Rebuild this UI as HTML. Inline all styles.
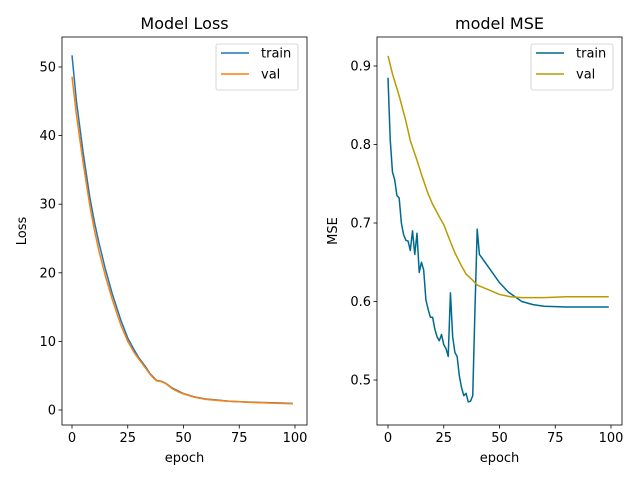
<!DOCTYPE html>
<html><head><meta charset="utf-8"><style>
body{margin:0;background:#fff}
svg{display:block;font-family:"DejaVu Sans","Liberation Sans",sans-serif}
</style></head><body>
<svg id="c" width="640" height="480" viewBox="0 0 640 480"></svg>
<script>
const lossEpochs=[0,2,5,8,10,12,15,18,20,22,25,28,30,33,35,37,38,40,42,45,48,50,55,60,65,70,75,80,85,90,95,99];
const lossTrain=[51.7,45,37.5,31,27.5,24.5,20.5,17,15,13,10.5,8.7,7.6,6.3,5.3,4.6,4.3,4.2,3.9,3.2,2.7,2.4,1.9,1.6,1.45,1.3,1.2,1.15,1.1,1.05,1.0,0.95];
const lossVal=[48.6,43,36,29.8,26.3,23.3,19.5,16.2,14.2,12.3,10,8.3,7.4,6.1,5.2,4.5,4.25,4.15,3.85,3.1,2.6,2.35,1.85,1.55,1.4,1.28,1.2,1.12,1.05,1.0,0.95,0.92];
const mseTrainEpochs=[0,1,2,3,4,5,6,7,8,9,10,11,12,13,14,15,16,17,18,19,20,21,22,23,24,25,26,27,28,29,30,31,32,33,34,35,36,37,38,39,40,41,43,46,50,54,57,60,65,70,80,90,99];
const mseTrain=[0.885,0.806,0.765,0.755,0.735,0.732,0.700,0.685,0.678,0.677,0.665,0.690,0.660,0.687,0.637,0.650,0.640,0.602,0.590,0.580,0.580,0.565,0.555,0.550,0.558,0.545,0.540,0.530,0.611,0.555,0.535,0.530,0.505,0.490,0.480,0.483,0.472,0.473,0.480,0.590,0.692,0.660,0.652,0.640,0.624,0.612,0.606,0.600,0.596,0.594,0.593,0.593,0.593];
const mseValEpochs=[0,2,5,8,10,13,15,18,20,23,25,28,30,33,35,38,40,45,50,55,60,70,80,90,99];
const mseVal=[0.913,0.89,0.862,0.83,0.805,0.78,0.762,0.737,0.724,0.708,0.698,0.676,0.662,0.645,0.635,0.627,0.621,0.615,0.609,0.606,0.605,0.605,0.606,0.606,0.606];
const xTicks=[0,25,50,75,100];
const lossTicks=[0,10,20,30,40,50];
const mseTicks=[0.5,0.6,0.7,0.8,0.9];

const svg=document.getElementById('c');
const NS='http://www.w3.org/2000/svg';
function mk(tag,attrs,parent,text){const e=document.createElementNS(NS,tag);for(const k in attrs)e.setAttribute(k,attrs[k]);if(text!==undefined)e.textContent=text;(parent||svg).appendChild(e);return e;}

function panel(o){
  const g=mk('g',{});
  
  
  const x=v=>o.x0+(v-o.xmin)*(o.x1-o.x0)/(o.xmax-o.xmin);
  const y=v=>o.y0-(v-o.ymin)*(o.y0-o.y1)/(o.ymax-o.ymin);
  o.series.forEach(s=>{
    const p=mk('polyline',{points:s.ex.map((e,i)=>x(e)+','+y(s.v[i])).join(' '),fill:'none',stroke:s.color,'stroke-width':1.5,'stroke-linejoin':'round'},g);
    
    
  });
  const fr=mk('rect',{x:o.L,y:o.T,width:o.R-o.L,height:o.B-o.T,fill:'none',stroke:'#000','stroke-width':0.8},g);
  
  
  xTicks.forEach(t=>{const px=x(t);mk('line',{x1:px,x2:px,y1:o.B,y2:o.B+3.5,stroke:'#000','stroke-width':0.8},g);
    const tl=mk('text',{x:px,y:o.B+17,'font-size':13,'text-anchor':'middle'},g,String(t));
    
    });
  o.yt.forEach(t=>{const py=y(t);mk('line',{x1:o.L-3.5,x2:o.L,y1:py,y2:py,stroke:'#000','stroke-width':0.8},g);
    const tl=mk('text',{x:o.L-6,y:py+4.5,'font-size':13,'text-anchor':'end'},g,o.fmt(t));
    
    });
  const ti=mk('text',{x:(o.L+o.R)/2,y:29,'font-size':16,'text-anchor':'middle'},g,o.title);
  
  
  const xl=mk('text',{x:(o.L+o.R)/2,y:462,'font-size':13,'text-anchor':'middle'},g,'epoch');
  
  
  const yx=o.L-o.ylOff;
  const yl=mk('text',{x:yx,y:(o.T+o.B)/2,'font-size':13,'text-anchor':'middle',transform:`rotate(-90 ${yx} ${(o.T+o.B)/2})`},g,o.ylabel);
  
  
  const lg=mk('g',{},g);
  
  
  mk('rect',{x:o.R-91,y:44,width:82,height:46,rx:2,fill:'#fff',stroke:'#ccc','stroke-width':0.8},lg);
  o.series.forEach((s,i)=>{const ly=53+i*21;
    mk('line',{x1:o.R-86,x2:o.R-58,y1:ly,y2:ly,stroke:s.color,'stroke-width':1.5},lg);
    const lt=mk('text',{x:o.R-46,y:ly+4.5,'font-size':13},lg,s.label);
    
    });
}
panel({name:'loss-panel',L:62,R:307,T:37,B:425,x0:72,x1:295,xmin:0,xmax:100,y0:410,y1:67,ymin:0,ymax:50,
  yt:lossTicks,fmt:t=>String(t),title:'Model Loss',ylabel:'Loss',ylOff:36,
  series:[{label:'train',ex:lossEpochs,v:lossTrain,color:'#1f77b4'},{label:'val',ex:lossEpochs,v:lossVal,color:'#ff7f0e'}]});
panel({name:'mse-panel',L:377,R:622,T:37,B:425,x0:388,x1:611,xmin:0,xmax:100,y0:380,y1:66,ymin:0.5,ymax:0.9,
  yt:mseTicks,fmt:t=>t.toFixed(1),title:'model MSE',ylabel:'MSE',ylOff:40,
  series:[{label:'train',ex:mseTrainEpochs,v:mseTrain,color:'#006a8e'},{label:'val',ex:mseValEpochs,v:mseVal,color:'#b89b00'}]});
</script>
</body></html>
